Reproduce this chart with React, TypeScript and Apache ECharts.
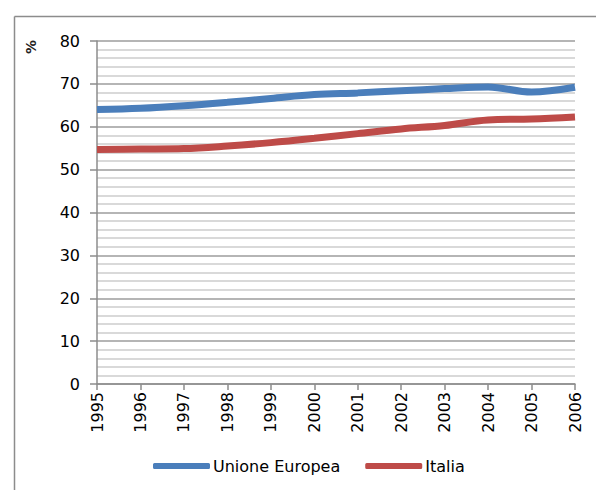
import React, { useEffect, useRef } from "react";
import * as echarts from "echarts";

const years = ["1995", "1996", "1997", "1998", "1999", "2000", "2001", "2002", "2003", "2004", "2005", "2006"];
const ueValues = [64.0, 64.3, 64.9, 65.7, 66.6, 67.5, 67.9, 68.4, 68.9, 69.3, 68.1, 69.2];
const itValues = [54.7, 54.8, 54.9, 55.5, 56.3, 57.3, 58.4, 59.5, 60.3, 61.6, 61.8, 62.3];
const seriesNames = ["Unione Europea", "Italia"];
const yMin = 0;
const yMax = 80;
const yInterval = 10;

const FONT = "DejaVu Sans";

export default function App() {
  const ref = useRef<HTMLDivElement>(null);
  useEffect(() => {
    if (!ref.current) return;
    const chart = echarts.init(ref.current, null, { renderer: "svg" });
    chart.setOption({
      animation: false,
      backgroundColor: "#ffffff",
      graphic: [
        { type: "line", shape: { x1: 14.5, y1: 16.5, x2: 596, y2: 16.5 }, style: { stroke: "#8c8c8c", lineWidth: 1.5 } },
        { type: "line", shape: { x1: 14.5, y1: 16.5, x2: 14.5, y2: 490 }, style: { stroke: "#8c8c8c", lineWidth: 1.5 } },
        {
          type: "text",
          x: 31,
          y: 47,
          rotation: Math.PI / 2,
          style: { text: "%", font: `bold 14px "${FONT}"`, fill: "#222", textAlign: "center", textVerticalAlign: "middle" },
        },
      ],
      grid: { left: 97, right: 21, top: 41, bottom: 106, containLabel: false },
      legend: {
        left: 148,
        top: 453,
        itemWidth: 57,
        itemHeight: 6,
        itemGap: 25,
        icon: "roundRect",
        textStyle: { fontFamily: FONT, fontSize: 16, color: "#000", padding: [0, 0, 0, -2] },
        data: seriesNames,
      },
      xAxis: {
        type: "category",
        data: years,
        boundaryGap: false,
        axisLine: { lineStyle: { color: "#8c8c8c", width: 1.5 } },
        axisTick: { show: true, length: 6, alignWithLabel: true, lineStyle: { color: "#8c8c8c", width: 1.5 } },
        axisLabel: { rotate: 90, fontFamily: FONT, fontSize: 16, color: "#000", margin: 8, interval: 0 },
        splitLine: { show: false },
      },
      yAxis: {
        type: "value",
        min: yMin,
        max: yMax,
        interval: yInterval,
        axisLine: { show: true, lineStyle: { color: "#8c8c8c", width: 1.5 } },
        axisTick: { show: true, length: 7, inside: false, lineStyle: { color: "#8c8c8c", width: 1.5 } },
        axisLabel: { fontFamily: FONT, fontSize: 16, color: "#000", margin: 17 },
        splitLine: { show: true, lineStyle: { color: "#9c9c9c", width: 1.5 } },
        minorTick: { show: false, splitNumber: 5 },
        minorSplitLine: { show: true, lineStyle: { color: "#cccccc", width: 1.5 } },
      },
      series: [
        {
          name: seriesNames[0],
          type: "line",
          data: ueValues,
          smooth: 0.35,
          showSymbol: false,
          symbol: "none",
          lineStyle: { color: "#4a7ebb", width: 7 },
          itemStyle: { color: "#4a7ebb" },
        },
        {
          name: seriesNames[1],
          type: "line",
          data: itValues,
          smooth: 0.35,
          showSymbol: false,
          symbol: "none",
          lineStyle: { color: "#be4b48", width: 7 },
          itemStyle: { color: "#be4b48" },
        },
      ],
    });
    return () => chart.dispose();
  }, []);
  return <div ref={ref} style={{ width: 596, height: 490, position: "absolute", left: 0, top: 0 }} />;
}
